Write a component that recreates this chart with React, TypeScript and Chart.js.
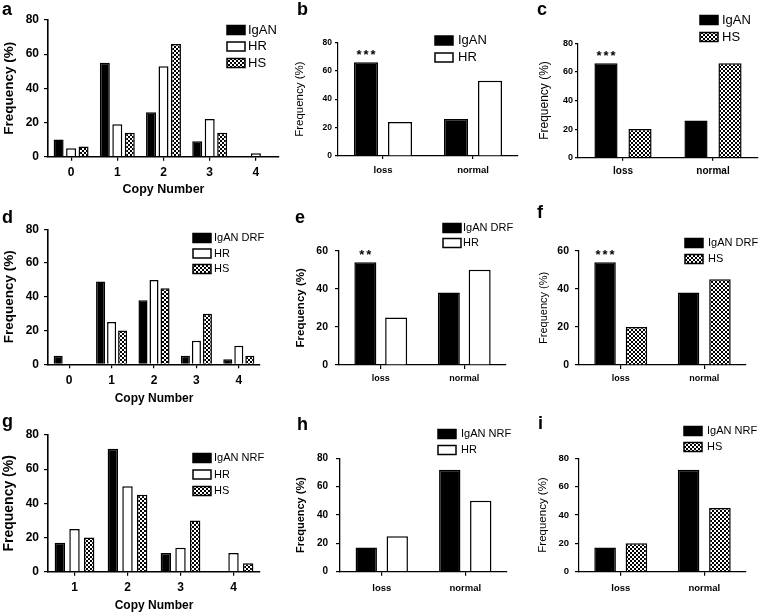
import React, { useEffect, useRef } from "react";
import { Chart, registerables } from "chart.js";

Chart.register(...registerables);

const FONT = "'Liberation Sans', Arial, Helvetica, sans-serif";

// ---------- data ----------
const copyNumbers0to4 = ["0", "1", "2", "3", "4"];
const copyNumbers1to4 = ["1", "2", "3", "4"];
const lossNormal = ["loss", "normal"];
const yTitle = "Frequency (%)";
const xTitle = "Copy Number";

// a
const aIgAN = [10, 55, 26, 9, 0];
const aHR = [5, 19, 53, 22, 2];
const aHS = [6, 14, 66, 14, 0];
// b
const bIgAN = [66, 26];
const bHR = [24, 53];
// c
const cIgAN = [66, 26];
const cHS = [20, 66];
// d
const dIgANDRF = [5, 49, 38, 5, 3];
const dHR = [0, 25, 50, 14, 11];
const dHS = [0, 20, 45, 30, 5];
// e
const eIgANDRF = [54, 38];
const eHR = [25, 50];
// f
const fIgANDRF = [54, 38];
const fHS = [20, 45];
// g
const gIgANNRF = [17, 72, 11, 0];
const gHR = [25, 50, 14, 11];
const gHS = [20, 45, 30, 5];
// h
const hIgANNRF = [17, 72];
const hHR = [25, 50];
// i
const iIgANNRF = [17, 72];
const iHS = [20, 45];

const yMax80 = 80;
const yMax60 = 60;
const yStep = 20;

type Kind = "black" | "white" | "check";
type Series = { label: string; data: number[]; kind: Kind };

type Spec = {
  letter: string; lx: number; ly: number;
  cx: number; cy: number; cw: number; ch: number;
  l: number; r: number; t: number; b: number;
  labels: string[]; series: Series[]; ymax: number;
  cp: number; bp: number;
  yTickFont: number; xTickFont: number;
  yTitleFont: number; yTitleBold: boolean; yTitlePad: number;
  xTitleFont?: number; showXTitle: boolean;
  tl: number; yPad: number; xPad: number; axisW: number;
  legX: number; legTextX: number; legY0: number; legDy: number; legFont: number;
  stars?: number;
};

const specs: Spec[] = [
  {
    letter: "a", lx: 2, ly: 15, cx: 0, cy: 0, cw: 290, ch: 197,
    l: 48, r: 279, t: 20, b: 156.7,
    labels: copyNumbers0to4,
    series: [
      { label: "IgAN", data: aIgAN, kind: "black" },
      { label: "HR", data: aHR, kind: "white" },
      { label: "HS", data: aHS, kind: "check" },
    ],
    ymax: yMax80, cp: 0.81, bp: 0.8,
    yTickFont: 12, xTickFont: 12, yTitleFont: 13.5, yTitleBold: true, yTitlePad: 1,
    xTitleFont: 12.5, showXTitle: true, tl: 4, yPad: 5, xPad: 5, axisW: 1.6,
    legX: 227, legTextX: 248, legY0: 30, legDy: 16.5, legFont: 13,
  },
  {
    letter: "b", lx: 297, ly: 15, cx: 293, cy: 0, cw: 230, ch: 190,
    l: 338, r: 518, t: 42.3, b: 156,
    labels: lossNormal,
    series: [
      { label: "IgAN", data: bIgAN, kind: "black" },
      { label: "HR", data: bHR, kind: "white" },
    ],
    ymax: yMax80, cp: 0.756, bp: 0.706,
    yTickFont: 8.5, xTickFont: 9.5, yTitleFont: 11.5, yTitleBold: false, yTitlePad: 0,
    showXTitle: false, tl: 3, yPad: 3, xPad: 5.3, axisW: 1.2,
    legX: 435, legTextX: 458, legY0: 40.5, legDy: 17, legFont: 13, stars: 3,
  },
  {
    letter: "c", lx: 537, ly: 15, cx: 537, cy: 0, cw: 224, ch: 190,
    l: 578, r: 758, t: 43.3, b: 157.7,
    labels: lossNormal,
    series: [
      { label: "IgAN", data: cIgAN, kind: "black" },
      { label: "HS", data: cHS, kind: "check" },
    ],
    ymax: yMax80, cp: 0.756, bp: 0.68,
    yTickFont: 9, xTickFont: 10, yTitleFont: 12, yTitleBold: false, yTitlePad: 0,
    showXTitle: false, tl: 3, yPad: 2, xPad: 5, axisW: 1.2,
    legX: 700, legTextX: 722, legY0: 20, legDy: 17, legFont: 13, stars: 3,
  },
  {
    letter: "d", lx: 2, ly: 223, cx: 0, cy: 203, cw: 275, ch: 203,
    l: 48, r: 260, t: 229.3, b: 364.3,
    labels: copyNumbers0to4,
    series: [
      { label: "IgAN DRF", data: dIgANDRF, kind: "black" },
      { label: "HR", data: dHR, kind: "white" },
      { label: "HS", data: dHS, kind: "check" },
    ],
    ymax: yMax80, cp: 0.78, bp: 0.82,
    yTickFont: 12, xTickFont: 12, yTitleFont: 13.5, yTitleBold: true, yTitlePad: 1,
    xTitleFont: 12, showXTitle: true, tl: 4, yPad: 5, xPad: 4.8, axisW: 1.6,
    legX: 193, legTextX: 214, legY0: 238, legDy: 15.5, legFont: 11,
  },
  {
    letter: "e", lx: 295, ly: 223, cx: 294, cy: 203, cw: 229, ch: 192,
    l: 339, r: 506, t: 250.7, b: 365,
    labels: lossNormal,
    series: [
      { label: "IgAN DRF", data: eIgANDRF, kind: "black" },
      { label: "HR", data: eHR, kind: "white" },
    ],
    ymax: yMax60, cp: 0.738, bp: 0.714,
    yTickFont: 10.5, xTickFont: 9, yTitleFont: 11.5, yTitleBold: true, yTitlePad: 0,
    showXTitle: false, tl: 4, yPad: 7, xPad: 4.6, axisW: 1.3,
    legX: 443, legTextX: 463, legY0: 228, legDy: 15, legFont: 11, stars: 2,
  },
  {
    letter: "f", lx: 537, ly: 218, cx: 537, cy: 203, cw: 224, ch: 192,
    l: 579, r: 746, t: 250.7, b: 365,
    labels: lossNormal,
    series: [
      { label: "IgAN DRF", data: fIgANDRF, kind: "black" },
      { label: "HS", data: fHS, kind: "check" },
    ],
    ymax: yMax60, cp: 0.752, bp: 0.685,
    yTickFont: 10.5, xTickFont: 9, yTitleFont: 11, yTitleBold: false, yTitlePad: 0,
    showXTitle: false, tl: 4, yPad: 6, xPad: 4.6, axisW: 1.2,
    legX: 685, legTextX: 708, legY0: 243, legDy: 16, legFont: 11, stars: 3,
  },
  {
    letter: "g", lx: 2, ly: 427, cx: 0, cy: 410, cw: 275, ch: 203,
    l: 48, r: 260, t: 435, b: 571.7,
    labels: copyNumbers1to4,
    series: [
      { label: "IgAN NRF", data: gIgANNRF, kind: "black" },
      { label: "HR", data: gHR, kind: "white" },
      { label: "HS", data: gHS, kind: "check" },
    ],
    ymax: yMax80, cp: 0.83, bp: 0.71,
    yTickFont: 12, xTickFont: 12, yTitleFont: 14, yTitleBold: true, yTitlePad: 0.5,
    xTitleFont: 12, showXTitle: true, tl: 4, yPad: 5, xPad: 4.8, axisW: 1.6,
    legX: 193, legTextX: 214, legY0: 458, legDy: 16.5, legFont: 11,
  },
  {
    letter: "h", lx: 297, ly: 430, cx: 294, cy: 410, cw: 229, ch: 195,
    l: 340, r: 507, t: 458.3, b: 571.7,
    labels: lossNormal,
    series: [
      { label: "IgAN NRF", data: hIgANNRF, kind: "black" },
      { label: "HR", data: hHR, kind: "white" },
    ],
    ymax: yMax80, cp: 0.742, bp: 0.69,
    yTickFont: 10, xTickFont: 9.5, yTitleFont: 11, yTitleBold: true, yTitlePad: 0,
    showXTitle: false, tl: 4, yPad: 8, xPad: 7, axisW: 1.3,
    legX: 438, legTextX: 461, legY0: 434, legDy: 16, legFont: 11,
  },
  {
    letter: "i", lx: 538, ly: 429, cx: 536, cy: 410, cw: 225, ch: 195,
    l: 579, r: 746, t: 458.3, b: 571.7,
    labels: lossNormal,
    series: [
      { label: "IgAN NRF", data: iIgANNRF, kind: "black" },
      { label: "HS", data: iHS, kind: "check" },
    ],
    ymax: yMax80, cp: 0.75, bp: 0.69,
    yTickFont: 9.5, xTickFont: 9.5, yTitleFont: 11.5, yTitleBold: false, yTitlePad: 0,
    showXTitle: false, tl: 4, yPad: 6, xPad: 7, axisW: 1.2,
    legX: 684, legTextX: 707, legY0: 431, legDy: 16, legFont: 11,
  },
];

let sharedPattern: CanvasPattern | null = null;
function getPattern(): CanvasPattern | string {
  if (sharedPattern) return sharedPattern;
  const c = document.createElement("canvas");
  c.width = 4;
  c.height = 4;
  const g = c.getContext("2d");
  if (!g) return "#555";
  g.fillStyle = "#fff";
  g.fillRect(0, 0, 4, 4);
  g.fillStyle = "#000";
  g.fillRect(0, 0, 2, 2);
  g.fillRect(2, 2, 2, 2);
  sharedPattern = g.createPattern(c, "repeat");
  return sharedPattern || "#555";
}

function fillFor(kind: Kind): any {
  if (kind === "black") return "#000";
  if (kind === "white") return "#fff";
  return getPattern();
}

function Panel({ spec }: { spec: Spec }) {
  const ref = useRef<HTMLCanvasElement | null>(null);
  useEffect(() => {
    const canvas = ref.current;
    if (!canvas) return;
    const s = spec;
    const deco = {
      id: "deco_" + s.letter,
      afterDraw(chart: any) {
        const ctx: CanvasRenderingContext2D = chart.ctx;
        ctx.save();
        ctx.fillStyle = "#000";
        ctx.textAlign = "left";
        ctx.textBaseline = "alphabetic";
        ctx.font = `bold 18px ${FONT}`;
        ctx.fillText(s.letter, s.lx - s.cx, s.ly - s.cy);
        s.series.forEach((ser, i) => {
          const y = s.legY0 + i * s.legDy - s.cy;
          const x = s.legX - s.cx;
          ctx.fillStyle = fillFor(ser.kind);
          ctx.fillRect(x, y - 4.5, 18, 9);
          ctx.strokeStyle = "#000";
          ctx.lineWidth = 1.5;
          ctx.strokeRect(x, y - 4.5, 18, 9);
          ctx.fillStyle = "#000";
          ctx.font = `${s.legFont}px ${FONT}`;
          ctx.textBaseline = "middle";
          ctx.textAlign = "left";
          ctx.fillText(ser.label, s.legTextX - s.cx, y);
        });
        if (s.stars) {
          const el: any = chart.getDatasetMeta(0).data[0];
          ctx.font = `bold 13px ${FONT}`;
          ctx.textAlign = "center";
          ctx.textBaseline = "alphabetic";
          ctx.fillStyle = "#000";
          for (let k = 0; k < s.stars; k++) {
            ctx.fillText("*", el.x + (k - (s.stars - 1) / 2) * 7, el.y - 3);
          }
        }
        ctx.restore();
      },
    };
    const chart = new Chart(canvas, {
      type: "bar",
      data: {
        labels: s.labels,
        datasets: s.series.map((ser) => ({
          label: ser.label,
          data: ser.data,
          backgroundColor: fillFor(ser.kind),
          borderColor: "#000",
          borderWidth: 1.5,
          categoryPercentage: s.cp,
          barPercentage: s.bp,
        })),
      },
      options: {
        responsive: false,
        animation: false,
        devicePixelRatio: 1,
        layout: {
          padding: { left: 0, top: s.t - s.cy, right: s.cx + s.cw - s.r, bottom: 0 },
        },
        plugins: { legend: { display: false }, tooltip: { enabled: false } },
        scales: {
          x: {
            type: "category",
            offset: true,
            grid: {
              display: true,
              offset: false,
              drawOnChartArea: false,
              drawTicks: true,
              tickLength: s.tl,
              color: "#000",
              lineWidth: 1.2,
            },
            border: { display: true, color: "#000", width: s.axisW },
            ticks: {
              color: "#000",
              font: { family: FONT, size: s.xTickFont, weight: "bold" },
              padding: s.xPad,
              autoSkip: false,
              maxRotation: 0,
            },
            title: {
              display: s.showXTitle,
              text: xTitle,
              color: "#000",
              font: { family: FONT, size: s.xTitleFont || 12, weight: "bold" },
              padding: 0,
            },
            afterFit: (sc: any) => {
              sc.height = s.cy + s.ch - s.b;
            },
          },
          y: {
            min: 0,
            max: s.ymax,
            grid: {
              display: true,
              drawOnChartArea: false,
              drawTicks: true,
              tickLength: s.tl,
              color: "#000",
              lineWidth: 1.2,
            },
            border: { display: true, color: "#000", width: s.axisW },
            ticks: {
              stepSize: yStep,
              color: "#000",
              font: { family: FONT, size: s.yTickFont, weight: "bold" },
              padding: s.yPad,
            },
            title: {
              display: true,
              text: yTitle,
              color: "#000",
              font: { family: FONT, size: s.yTitleFont, weight: s.yTitleBold ? "bold" : "normal" },
              padding: { top: s.yTitlePad, bottom: 0 },
            },
            afterFit: (sc: any) => {
              sc.width = s.l - s.cx;
            },
          },
        },
      } as any,
      plugins: [deco],
    });
    return () => chart.destroy();
  }, [spec]);
  return (
    <canvas
      ref={ref}
      width={spec.cw}
      height={spec.ch}
      style={{
        position: "absolute",
        left: spec.cx,
        top: spec.cy,
        width: spec.cw,
        height: spec.ch,
      }}
    />
  );
}

export default function App() {
  return (
    <div
      style={{
        position: "absolute",
        left: 0,
        top: 0,
        width: 761,
        height: 613,
        background: "#fff",
        overflow: "hidden",
      }}
    >
      {specs.map((s) => (
        <Panel key={s.letter} spec={s} />
      ))}
    </div>
  );
}
